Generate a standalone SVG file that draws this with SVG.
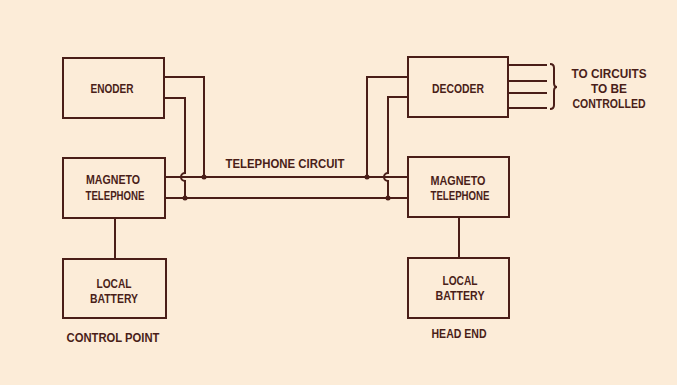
<svg xmlns="http://www.w3.org/2000/svg" width="677" height="385" viewBox="0 0 677 385">
<style>
.box{fill:none;stroke:#4a1e18;stroke-width:2}
.w{fill:none;stroke:#4a1e18;stroke-width:2}
.dot{fill:#4a1e18}
text{font-family:"Liberation Sans",Arial,sans-serif;font-size:13px;font-weight:bold;fill:#4a1e18;text-anchor:middle}
</style>
<rect x="0" y="0" width="677" height="385" fill="#fcecd8"/>
<g id="encoder"><rect class="box" x="63" y="58" width="101" height="60"/><text x="112" y="93" textLength="43" lengthAdjust="spacingAndGlyphs">ENODER</text></g>
<g id="magneto-left"><rect class="box" x="63" y="158" width="102" height="60"/><text x="113" y="184" textLength="54" lengthAdjust="spacingAndGlyphs">MAGNETO</text><text x="115" y="200" textLength="59" lengthAdjust="spacingAndGlyphs">TELEPHONE</text></g>
<g id="battery-left"><rect class="box" x="63" y="259" width="103" height="59"/><text x="114" y="288" textLength="35" lengthAdjust="spacingAndGlyphs">LOCAL</text><text x="114" y="303" textLength="48" lengthAdjust="spacingAndGlyphs">BATTERY</text></g>
<g id="decoder"><rect class="box" x="408" y="57" width="100" height="60"/><text x="458" y="93" textLength="52" lengthAdjust="spacingAndGlyphs">DECODER</text></g>
<g id="magneto-right"><rect class="box" x="408" y="157" width="101" height="60"/><text x="458" y="185" textLength="55" lengthAdjust="spacingAndGlyphs">MAGNETO</text><text x="460" y="200" textLength="59" lengthAdjust="spacingAndGlyphs">TELEPHONE</text></g>
<g id="battery-right"><rect class="box" x="408" y="258" width="101" height="60"/><text x="460" y="285" textLength="35" lengthAdjust="spacingAndGlyphs">LOCAL</text><text x="460" y="300" textLength="49" lengthAdjust="spacingAndGlyphs">BATTERY</text></g>
<g id="labels">
<text x="285" y="168" textLength="119" lengthAdjust="spacingAndGlyphs">TELEPHONE CIRCUIT</text>
<text x="609" y="78" textLength="75" lengthAdjust="spacingAndGlyphs">TO CIRCUITS</text>
<text x="609" y="93" textLength="36" lengthAdjust="spacingAndGlyphs">TO BE</text>
<text x="609" y="108" textLength="73" lengthAdjust="spacingAndGlyphs">CONTROLLED</text>
<text x="113" y="342" textLength="93" lengthAdjust="spacingAndGlyphs">CONTROL POINT</text>
<text x="459" y="338" textLength="55" lengthAdjust="spacingAndGlyphs">HEAD END</text>
</g>
<g id="connectors">
<path class="w" d="M165,177 H408 M165,198 H408"/>
<path class="w" d="M164,77 H204 V177"/>
<path class="w" d="M164,98 H185 V173 A4,4 0 0 0 185,181 V198"/>
<path class="w" d="M408,77 H367 V177"/>
<path class="w" d="M408,97 H388 V173 A4,4 0 0 0 388,181 V198"/>
<path class="w" d="M115,218 V259 M459,217 V258"/>
<path class="w" d="M508,65 H547 M508,81 H547 M508,93 H547 M508,108 H547"/>
<path class="w" stroke-width="1.5" d="M550,64 Q554,64 554,68 V83 Q554,87 557,87 Q554,87 554,91 V105 Q554,109 550,109"/>
<circle class="dot" cx="204" cy="177" r="2.5"/>
<circle class="dot" cx="185" cy="198" r="2.5"/>
<circle class="dot" cx="367" cy="177" r="2.5"/>
<circle class="dot" cx="388" cy="198" r="2.5"/>
</g>
</svg>
